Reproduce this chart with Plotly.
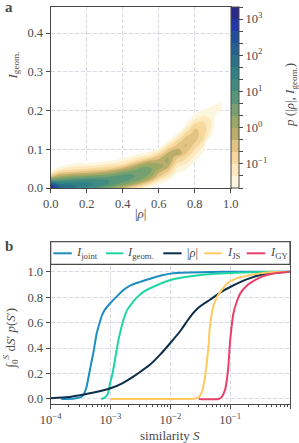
import numpy as np
import plotly.graph_objects as go

# ---------------- panel a : density p(|rho|, I_geom) (log10 values) ----------------
rho_grid = [0.0, 0.05, 0.1, 0.15, 0.2, 0.25, 0.3, 0.35, 0.4, 0.45, 0.5,
            0.55, 0.6, 0.65, 0.7, 0.75, 0.8, 0.85, 0.9, 0.95, 1.0]
igeom_grid = [0.0, 0.005, 0.01, 0.02, 0.03, 0.04, 0.05, 0.06, 0.07, 0.08, 0.09,
              0.10, 0.11, 0.12, 0.13, 0.14, 0.15, 0.16, 0.17, 0.18, 0.19,
              0.20, 0.21, 0.22, 0.23, 0.24]
E = -3.0  # no samples
# one list per |rho| column, values from I_geom = 0 upward (remaining rows empty)
log_density_cols = [
    [3.3, 2.9, 2.5, 1.0, -0.5, -1.4, -2.0],
    [2.2, 2.0, 1.7, 0.8, 0.0, -0.7, -1.4, -1.9],
    [1.8, 1.8, 1.6, 1.0, 0.2, -0.6, -1.2, -1.6, -2.0],
    [1.6, 1.65, 1.6, 1.1, 0.3, -0.5, -1.1, -1.5, -1.9],
    [1.3, 1.45, 1.45, 1.15, 0.4, -0.4, -1.0, -1.5, -1.9],
    [1.0, 1.2, 1.3, 1.15, 0.5, -0.3, -0.9, -1.4, -1.8],
    [0.6, 0.9, 1.1, 1.05, 0.6, -0.1, -0.8, -1.3, -1.7, -2.1],
    [0.2, 0.5, 0.8, 0.95, 0.7, 0.1, -0.6, -1.2, -1.6, -2.0],
    [-0.3, 0.1, 0.5, 0.85, 0.8, 0.4, -0.3, -1.0, -1.4, -1.8],
    [-0.8, -0.4, 0.1, 0.6, 0.75, 0.6, 0.1, -0.5, -1.1, -1.5, -1.9],
    [-1.2, -0.9, -0.5, 0.3, 0.55, 0.6, 0.45, 0.0, -0.7, -1.3, -1.7, -2.1],
    [-1.8, -1.5, -1.1, -0.3, 0.2, 0.4, 0.4, 0.2, -0.3, -1.0, -1.5, -1.9],
    [-2.2, -1.9, -1.6, -1.2, -0.6, -0.3, 0.1, 0.1, -0.2, -0.5, -1.0, -1.5, -2.0],
    [E, -2.3, -2.0, -1.6, -1.2, -0.8, -0.4, -0.1, 0.1, 0.0, -0.3, -0.7, -1.2, -1.6, -2.0],
    [E, E, E, -2.2, -1.9, -1.6, -1.4, -1.1, -0.8, -0.5, 0.05, -0.3, -0.6, -0.9, -1.3, -1.6, -2.0],
    [E, E, E, -2.3, -2.0, -1.8, -1.6, -1.4, -1.1, -0.9, -0.6, -0.4, -0.3, -0.4, -0.6, -0.9,
     -1.2, -1.5, -1.8, -2.1],
    [E, E, E, E, E, -2.2, -2.0, -1.8, -1.6, -1.4, -1.2, -1.0, -0.8, -0.6, -0.5, -0.5, -0.6,
     -0.8, -1.1, -1.4, -1.6, -1.9],
    [E, E, E, E, E, E, E, E, -2.2, -1.9, -1.7, -1.5, -1.3, -1.1, -0.95, -0.85, -0.8, -0.85,
     -1.0, -1.2, -1.4, -1.6, -1.9],
    [E, E, E, E, E, E, E, E, E, E, E, E, E, E, -1.9, -1.7, -1.55, -1.45, -1.4, -1.4, -1.45,
     -1.5, -1.6, -1.9],
    [E, E, E, E, E, E, E, E, E, E, E, E, E, E, E, E, E, E, E, E, -2.0, -1.7, -1.6, -1.6, -1.9],
    [],
]
# 15 filled levels every 1/3 decade from 10^-5/3 to 10^10/3 (bottom -> top)
level_colors = ["#fdf6de", "#fde9bd", "#f6d89d", "#e2c382", "#bcae6a", "#98a865",
                "#76a06f", "#58967a", "#3f8b80", "#2f8186", "#2a718a", "#266090",
                "#204f9b", "#2335a7", "#2b2a8b"]
lvl_start, lvl_end, lvl_size = -5 / 3, 10 / 3, 1 / 3
cbar_tickvals = [-1, 0, 1, 2, 3]
cbar_ticktext = ["10<sup>−1</sup>", "10<sup>0</sup>", "10<sup>1</sup>", "10<sup>2</sup>", "10<sup>3</sup>"]

# ---------------- panel b : cumulative distributions ----------------
S_joint = [1.5e-4, 2.5e-4, 3.2e-4, 3.6e-4, 4.0e-4, 4.3e-4, 4.8e-4, 5.15e-4, 5.9e-4, 6.5e-4,
           7.1e-4, 8.0e-4, 9.8e-4, 1.3e-3, 1.64e-3, 2.2e-3, 3.1e-3, 4.6e-3, 7e-3, 1e-2,
           2e-2, 5e-2, 0.1, 1.0]
C_joint = [0.0, 0.004, 0.015, 0.04, 0.1, 0.175, 0.29, 0.36, 0.52, 0.59,
           0.65, 0.7, 0.75, 0.81, 0.856, 0.895, 0.92, 0.945, 0.97, 0.985,
           0.994, 0.998, 1.0, 1.0]
S_geom = [7e-4, 8e-4, 9e-4, 9.8e-4, 1.08e-3, 1.19e-3, 1.35e-3, 1.5e-3, 1.64e-3, 1.9e-3,
          2.26e-3, 2.8e-3, 3.5e-3, 4.6e-3, 1e-2, 3.2e-2, 0.1, 0.32, 1.0]
C_geom = [0.0, 0.01, 0.04, 0.12, 0.2, 0.31, 0.46, 0.55, 0.62, 0.7,
          0.75, 0.8, 0.84, 0.87, 0.935, 0.974, 0.99, 0.998, 1.0]
S_rho = [1e-4, 2e-4, 3.1e-4, 5e-4, 1e-3, 1.6e-3, 2.4e-3, 3.3e-3, 4.6e-3, 6.8e-3, 1e-2,
         1.5e-2, 2.1e-2, 3e-2, 4.6e-2, 0.07, 0.1, 0.15, 0.21, 0.32, 0.47, 1.0]
C_rho = [0.005, 0.015, 0.03, 0.048, 0.084, 0.125, 0.175, 0.22, 0.27, 0.35, 0.44,
         0.54, 0.64, 0.72, 0.78, 0.84, 0.88, 0.92, 0.948, 0.975, 0.988, 1.0]
S_js = [1e-3, 2e-2, 2.6e-2, 3e-2, 3.4e-2, 3.8e-2, 4.1e-2, 4.33e-2, 4.6e-2, 5.2e-2,
        6e-2, 7.2e-2, 9e-2, 0.129, 0.2, 0.32, 0.6, 1.0]
C_js = [0.0, 0.0, 0.003, 0.015, 0.06, 0.175, 0.3, 0.41, 0.57, 0.725,
        0.8, 0.856, 0.91, 0.948, 0.97, 0.987, 0.997, 1.0]
S_gy = [3e-2, 6.4e-2, 7.2e-2, 8.2e-2, 8.8e-2, 9.3e-2, 0.1, 0.113, 0.13, 0.148,
        0.18, 0.215, 0.3, 0.41, 0.6, 1.0]
C_gy = [0.0, 0.0, 0.015, 0.07, 0.15, 0.25, 0.46, 0.67, 0.77, 0.83,
        0.88, 0.91, 0.95, 0.974, 0.99, 1.0]

series_names = ["<i>I</i><sub>joint</sub>", "<i>I</i><sub>geom.</sub>", "|<i>ρ</i>|",
                "<i>I</i><sub>JS</sub>", "<i>I</i><sub>GY</sub>"]
series_colors = ["#1e8dbf", "#1fd6a2", "#0c2e4b", "#fec95e", "#e8416a"]
series_S = [S_joint, S_geom, S_rho, S_js, S_gy]
series_C = [C_joint, C_geom, C_rho, C_js, C_gy]

# ---------------- layout helpers ----------------
W, H = 299, 443
def px_x(p): return p / W
def px_y(p): return 1 - p / H

FONT = "Liberation Serif"
TXT = "#4a4a4a"
AX = "#4a4a4a"
GRID = "#d9d9e3"

# build density table
z = np.full((len(igeom_grid), len(rho_grid)), E)
for j, col in enumerate(log_density_cols):
    z[:len(col), j] = col

n_lv = 16
contour_scale = [[0.0, "rgba(255,255,255,0)"]]
for k, c in enumerate(level_colors):
    contour_scale.append([(k + 1) / n_lv, c])
contour_scale.append([1.0, level_colors[-1]])

bar_scale = []
for k, c in enumerate(level_colors):
    bar_scale.append([k / 15, c])
    bar_scale.append([(k + 1) / 15, c])

cb_ticks = [lvl_start + k * lvl_size for k in range(16)]
cb_text = []
for t in cb_ticks:
    hit = [cbar_ticktext[i] for i, v in enumerate(cbar_tickvals) if abs(v - t) < 1e-6]
    cb_text.append(hit[0] if hit else "")

fig = go.Figure()
fig.add_trace(go.Contour(
    x=rho_grid, y=igeom_grid, z=z, xaxis="x", yaxis="y",
    autocontour=False,
    contours=dict(start=lvl_start, end=lvl_end, size=lvl_size, coloring="fill", showlines=False),
    line=dict(width=0), colorscale=contour_scale, showscale=False, hoverinfo="skip",
))
# colorbar carrier
fig.add_trace(go.Scatter(
    x=[None], y=[None], xaxis="x", yaxis="y", mode="markers", showlegend=False,
    marker=dict(color=[lvl_start], cmin=lvl_start, cmax=lvl_end, colorscale=bar_scale,
                showscale=True,
                colorbar=dict(x=px_x(230.7), xanchor="left", xpad=0, ypad=0,
                              y=px_y(97.5), yanchor="middle", len=181 / H, lenmode="fraction",
                              thickness=8, thicknessmode="pixels",
                              outlinewidth=1, outlinecolor=AX,
                              tickmode="array", tickvals=cb_ticks, ticktext=cb_text,
                              ticks="outside", ticklen=4, tickcolor=AX, tickwidth=1,
                              tickfont=dict(family=FONT, size=12.5, color=TXT))),
))

for name, col, S, C in zip(series_names, series_colors, series_S, series_C):
    fig.add_trace(go.Scatter(x=S, y=C, xaxis="x2", yaxis="y2", mode="lines", name=name,
                             line=dict(color=col, width=2, shape="spline", smoothing=0.6),
                             showlegend=False))

axis_common = dict(showline=True, linecolor=AX, linewidth=1.2, mirror=True,
                   ticks="outside", ticklen=4, tickwidth=1, tickcolor=AX,
                   tickfont=dict(family=FONT, size=12.5, color=TXT),
                   showgrid=True, gridcolor=GRID, griddash="4px,2px", gridwidth=1,
                   zeroline=False, automargin=False)

fig.update_layout(
    width=W, height=H, margin=dict(l=0, r=0, t=0, b=0),
    paper_bgcolor="white", plot_bgcolor="white", showlegend=False,
    xaxis=dict(domain=[px_x(50.7), px_x(230.7)], range=[0, 1], anchor="y",
               tickvals=[0, 0.2, 0.4, 0.6, 0.8, 1.0], tickformat=".1f", **axis_common),
    yaxis=dict(domain=[px_y(188), px_y(7)], range=[0, 0.4674], anchor="x",
               tickvals=[0, 0.1, 0.2, 0.3, 0.4], tickformat=".1f", **axis_common),
    xaxis2=dict(domain=[px_x(50.7), px_x(290)], type="log", range=[-4, 0], anchor="y2",
                tickvals=[1e-4, 1e-3, 1e-2, 1e-1, 1],
                ticktext=["10<sup>−4</sup>", "10<sup>−3</sup>", "10<sup>−2</sup>",
                          "10<sup>−1</sup>", "10<sup>0</sup>"],
                minor=dict(ticks="outside", ticklen=2, tickcolor=AX, showgrid=False,
                           tickvals=[m * 10.0 ** e for e in range(-4, 0) for m in range(2, 10)]),
                **axis_common),
    yaxis2=dict(domain=[px_y(404.3), px_y(241.7)], range=[-0.042, 1.236], anchor="x2",
                tickvals=[0, 0.2, 0.4, 0.6, 0.8, 1.0], tickformat=".1f", **axis_common),
)

# legend frame for panel b
shapes = [dict(type="rect", xref="x2 domain", yref="y2", x0=0, x1=1, y0=1.058, y1=1.236,
               fillcolor="white", line=dict(color=AX, width=1.2), layer="above")]
leg_line_x = [(0.011, 0.088), (0.231, 0.303), (0.4705, 0.547), (0.642, 0.715), (0.819, 0.896)]
leg_text_x = [0.097, 0.310, 0.561, 0.728, 0.908]
leg_y = (404.3 - 253.3) / 162.6
for (a, b), col in zip(leg_line_x, series_colors):
    shapes.append(dict(type="line", xref="x2 domain", yref="y2 domain", x0=a, x1=b,
                       y0=leg_y, y1=leg_y, line=dict(color=col, width=2), layer="above"))
fig.update_layout(shapes=shapes)

ann = []
for tx, name in zip(leg_text_x, series_names):
    ann.append(dict(xref="x2 domain", yref="y2 domain", x=tx, y=leg_y, text=name,
                    showarrow=False, xanchor="left", yanchor="middle",
                    font=dict(family=FONT, size=12.5, color=TXT)))

def lab(x, y, text, angle=0, size=13, anchor="center"):
    ann.append(dict(xref="paper", yref="paper", x=px_x(x), y=px_y(y), text=text,
                    showarrow=False, textangle=angle, xanchor=anchor, yanchor="middle",
                    font=dict(family=FONT, size=size, color=TXT)))

lab(2.5, 6.5, "<b>a</b>", size=15, anchor="left")
lab(2.5, 246, "<b>b</b>", size=15, anchor="left")
lab(12.5, 66, "<i>I</i><sub>geom.</sub>", angle=-90)
lab(140.7, 214, "|<i>ρ</i>|")
lab(290, 95, "<i>p</i> (|<i>ρ</i>|, <i>I</i><sub>geom.</sub>)", angle=-90)
lab(10.5, 338, "∫<sub>0</sub><sup><i>S</i></sup> d<i>S</i>′ <i>p</i>(<i>S</i>′)", angle=-90)
lab(170.3, 435, "similarity <i>S</i>")
fig.update_layout(annotations=ann)

fig.write_html("out.html", config={"displayModeBar": False},
               post_script="document.body.style.margin='0';document.body.style.overflow='hidden';")
